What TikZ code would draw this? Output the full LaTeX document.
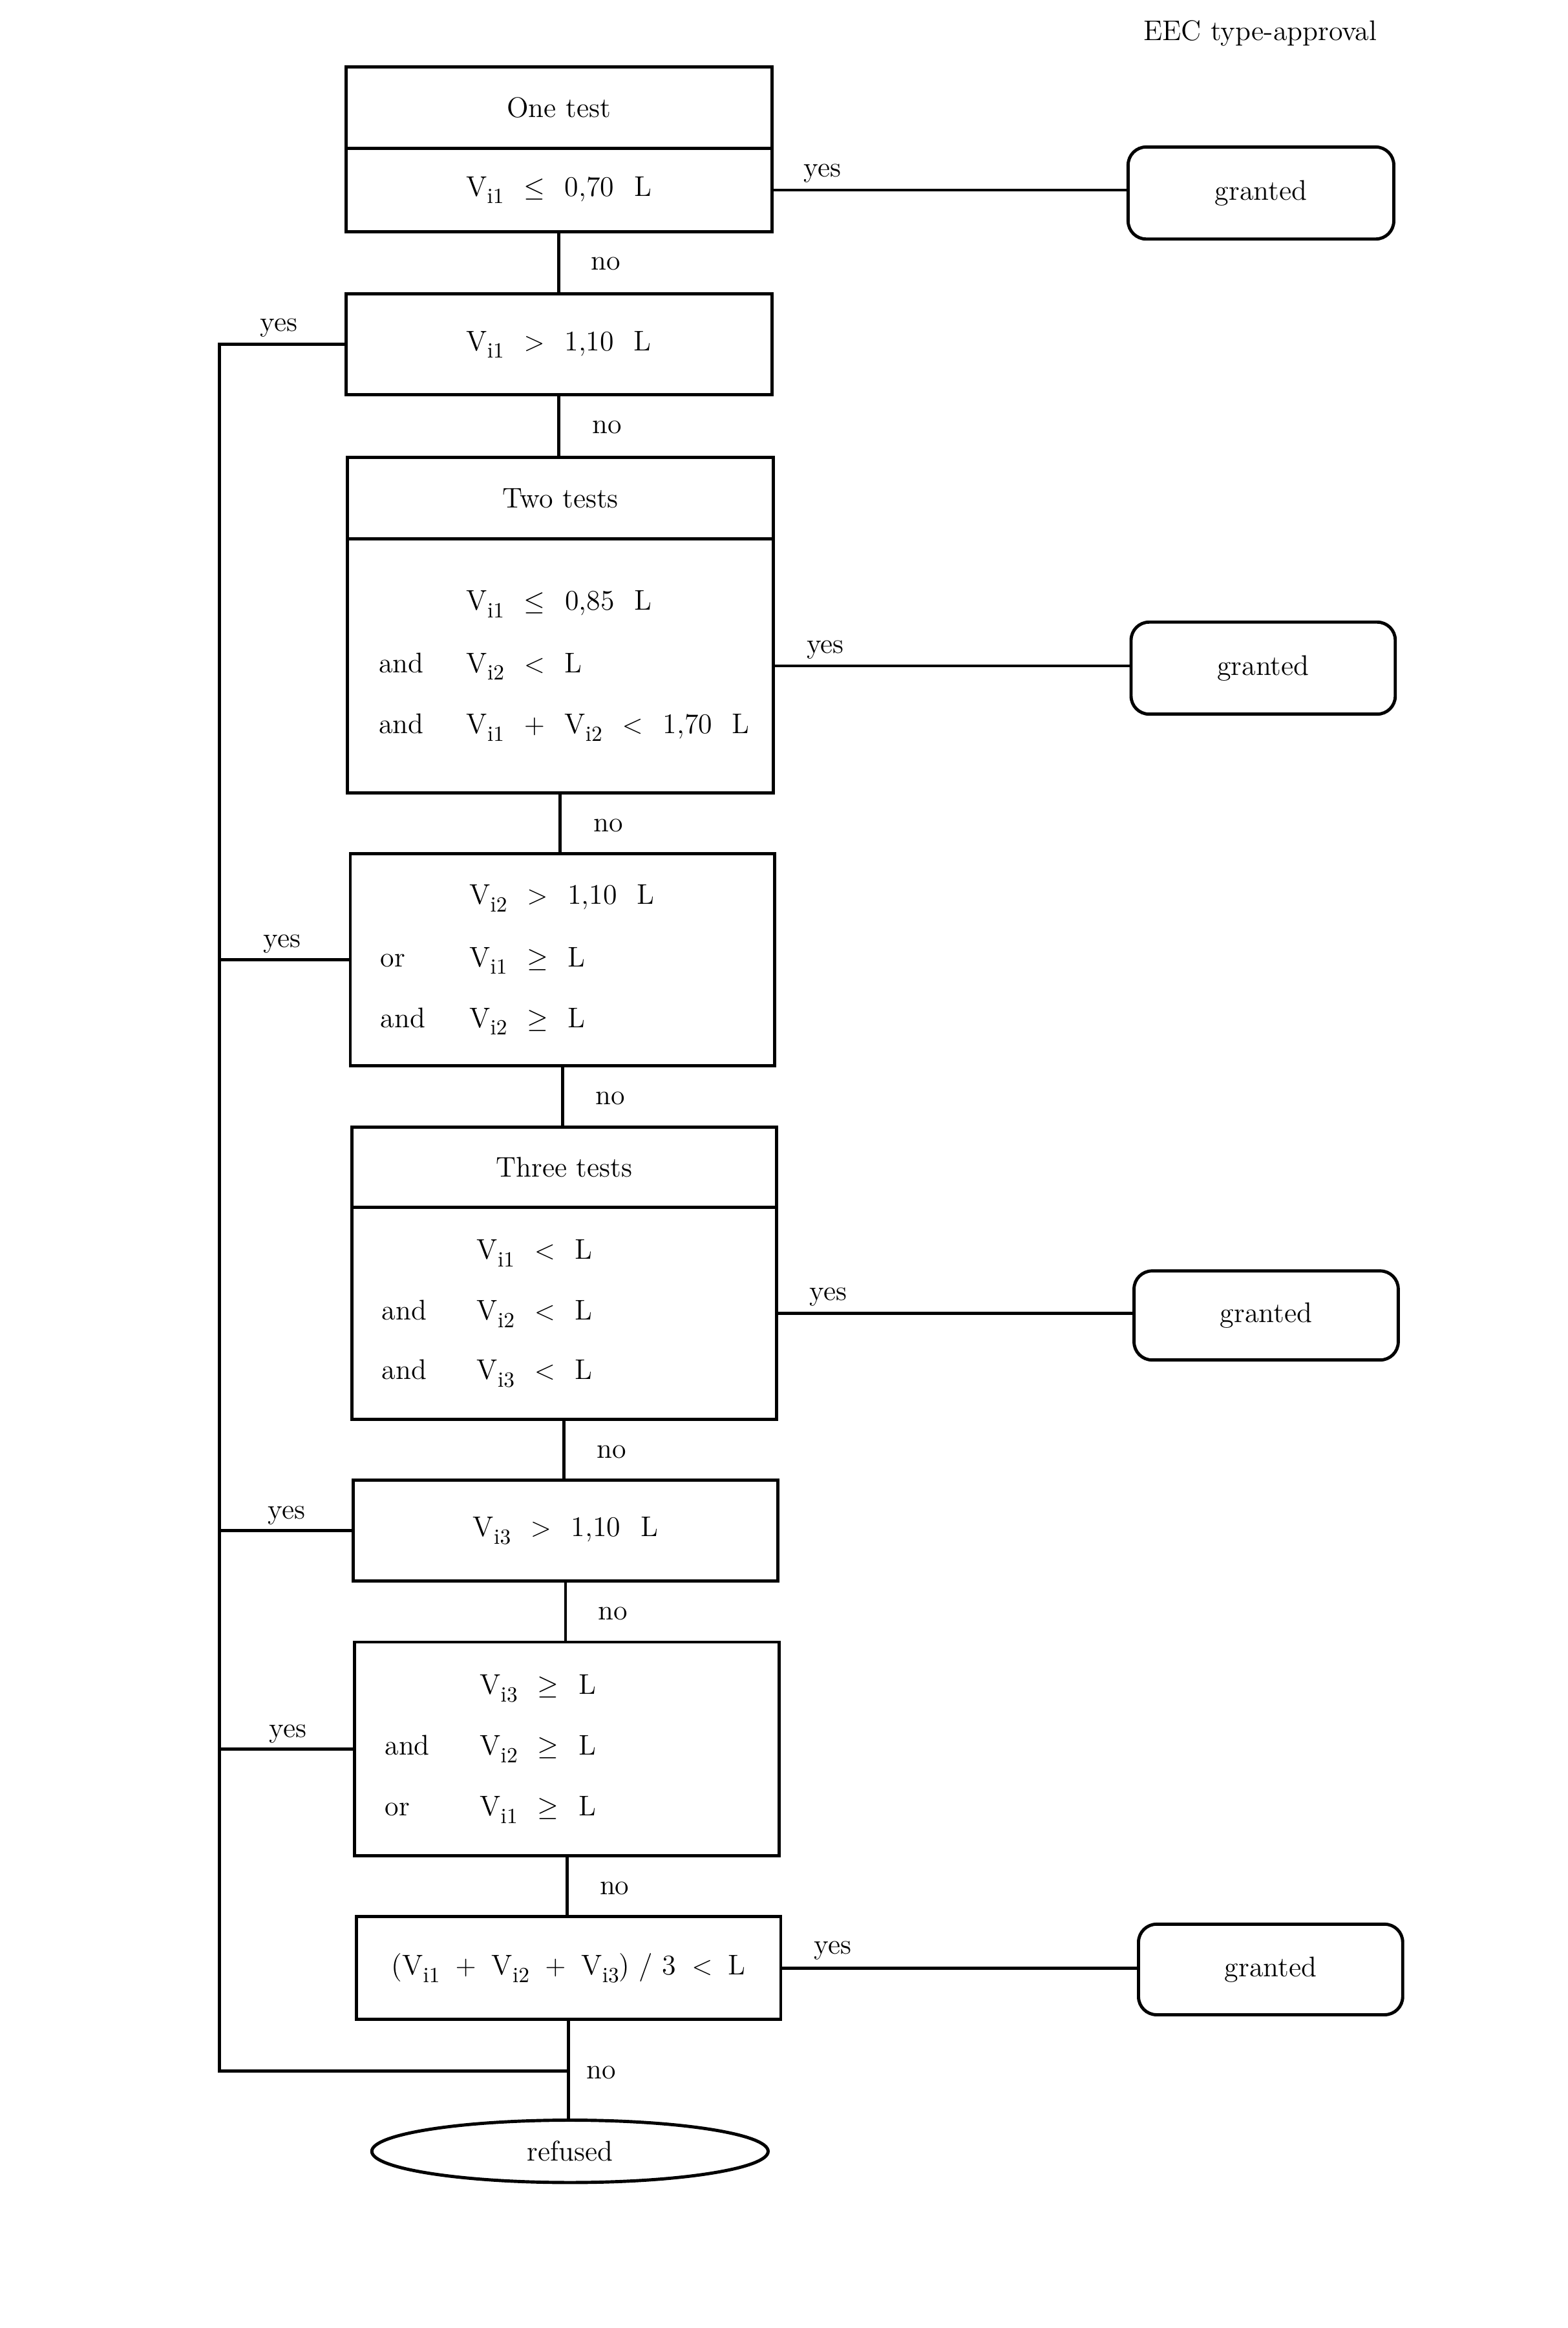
\documentclass[tikz,border=0pt]{standalone}
\usepackage{fontspec}
\usetikzlibrary{shapes.geometric}
\newdimen\U \U=0.022964cm
\newcommand\gapp{\hspace{0.7em}}
\newcommand\gaps{\hspace{0.55em}}
\newcommand\Vsub[1]{V\raisebox{-3.3pt}{\fontsize{9.5}{11}\selectfont i#1}}
\begin{document}
\begin{tikzpicture}[x=0.022964cm,y=-0.022964cm,
  every node/.style={font=\fontsize{12.5}{15}\selectfont},
  sz/.style 2 args={minimum width=#1*\U, minimum height=#2*\U},
  box/.style={draw,line width=1.4pt,rectangle,inner sep=0pt,outer sep=0pt},
  gbox/.style={box,rounded corners=0.28cm},
  txt/.style={inner sep=0pt,anchor=base west},
  lbl/.style={inner sep=0pt,anchor=base},
  conn/.style={line width=1.4pt}]
\useasboundingbox (0,0) rectangle (1056,1568);

\node[lbl] (title) at (849,27) {EEC type-approval};

% boxes
\node[box,sz={287}{55}] (b1t) at (376.5,72.5) {One test};
\node[box,sz={287}{56}] (b1) at (376.5,128) {\Vsub{1}\gapp$\leq$\gapp 0,70\gapp L};
\node[gbox,sz={179}{62}] (g1) at (849.5,130) {granted};

\node[box,sz={287}{68}] (b2) at (376.5,232) {\Vsub{1}\gapp$>$\gapp 1,10\gapp L};

\node[box,sz={287}{55}] (b3t) at (377.5,335.5) {Two tests};
\node[box,sz={287}{171}] (b3) at (377.5,448.5) {};
\node[txt] (t3a) at (314,411) {\Vsub{1}\gapp$\leq$\gapp 0,85\gapp L};
\node[txt] (c3b) at (255,453) {and};
\node[txt] (t3b) at (314,453) {\Vsub{2}\gapp$<$\gapp L};
\node[txt] (c3c) at (255,494) {and};
\node[txt] (t3c) at (314,494) {\Vsub{1}\gapp$+$\gapp\Vsub{2}\gapp$<$\gapp 1,70\gapp L};
\node[gbox,sz={178}{62}] (g2) at (851,450) {granted};

\node[box,sz={286}{143}] (b4) at (379,646.5) {};
\node[txt] (t4a) at (316,609) {\Vsub{2}\gapp$>$\gapp 1,10\gapp L};
\node[txt] (c4b) at (256,651) {or};
\node[txt] (t4b) at (316,651) {\Vsub{1}\gapp$\geq$\gapp L};
\node[txt] (c4c) at (256,692) {and};
\node[txt] (t4c) at (316,692) {\Vsub{2}\gapp$\geq$\gapp L};

\node[box,sz={286}{54}] (b5t) at (380,786) {Three tests};
\node[box,sz={286}{143}] (b5) at (380,884.5) {};
\node[txt] (t5a) at (321,848) {\Vsub{1}\gapp$<$\gapp L};
\node[txt] (c5b) at (257,889) {and};
\node[txt] (t5b) at (321,889) {\Vsub{2}\gapp$<$\gapp L};
\node[txt] (c5c) at (257,929) {and};
\node[txt] (t5c) at (321,929) {\Vsub{3}\gapp$<$\gapp L};
\node[gbox,sz={178}{60}] (g3) at (853,886) {granted};

\node[box,sz={286}{68}] (b6) at (381,1031) {\Vsub{3}\gapp$>$\gapp 1,10\gapp L};

\node[box,sz={286}{144}] (b7) at (382,1178) {};
\node[txt] (t7a) at (323,1141) {\Vsub{3}\gapp$\geq$\gapp L};
\node[txt] (c7b) at (259,1182) {and};
\node[txt] (t7b) at (323,1182) {\Vsub{2}\gapp$\geq$\gapp L};
\node[txt] (c7c) at (259,1223) {or};
\node[txt] (t7c) at (323,1223) {\Vsub{1}\gapp$\geq$\gapp L};

\node[box,sz={286}{69}] (b8) at (383,1325.5) {(\Vsub{1}\gaps$+$\gaps\Vsub{2}\gaps$+$\gaps\Vsub{3}) / 3\gaps$<$\gaps L};
\node[gbox,sz={178}{61}] (g4) at (856,1326.5) {granted};

\node[draw,line width=1.4pt,ellipse,inner sep=0pt,outer sep=0pt,sz={267}{42}] (ref) at (384,1449) {refused};

% connectors
\coordinate (lt) at (148,232);
\coordinate (lb) at (148,1395);
\draw[conn] (b1.east) -- (b1.east -| g1.west);
\draw[conn] (b1.south) -- (b1.south |- b2.north);
\draw[conn] (b2.south) -- (b2.south |- b3t.north);
\draw[conn] (b3.east) -- (b3.east -| g2.west);
\draw[conn] (b3.south) -- (b3.south |- b4.north);
\draw[conn] (b4.south) -- (b4.south |- b5t.north);
\draw[conn] (b5.east) -- (b5.east -| g3.west);
\draw[conn] (b5.south) -- (b5.south |- b6.north);
\draw[conn] (b6.south) -- (b6.south |- b7.north);
\draw[conn] (b7.south) -- (b7.south |- b8.north);
\draw[conn] (b8.east) -- (b8.east -| g4.west);
\draw[conn] (b8.south) -- (b8.south |- ref.north);
\draw[conn] (b2.west) -- (lt) -- (lb) -- (lb -| b8.south);
\draw[conn] (b4.west) -- (b4.west -| lt);
\draw[conn] (b6.west) -- (b6.west -| lt);
\draw[conn] (b7.west) -- (b7.west -| lt);

% labels
\node[lbl] (y1) at (554,119) {yes};
\node[lbl] (y2) at (188,223) {yes};
\node[lbl] (y3) at (556,440) {yes};
\node[lbl] (y4) at (190,638) {yes};
\node[lbl] (y5) at (558,876) {yes};
\node[lbl] (y6) at (193,1023) {yes};
\node[lbl] (y7) at (194,1170) {yes};
\node[lbl] (y8) at (561,1316) {yes};
\node[lbl] (n1) at (408,182) {no};
\node[lbl] (n2) at (409,292) {no};
\node[lbl] (n3) at (410,560) {no};
\node[lbl] (n4) at (411,744) {no};
\node[lbl] (n5) at (412,982) {no};
\node[lbl] (n6) at (413,1091) {no};
\node[lbl] (n7) at (414,1276) {no};
\node[lbl] (n8) at (405,1400) {no};
\end{tikzpicture}
\end{document}
